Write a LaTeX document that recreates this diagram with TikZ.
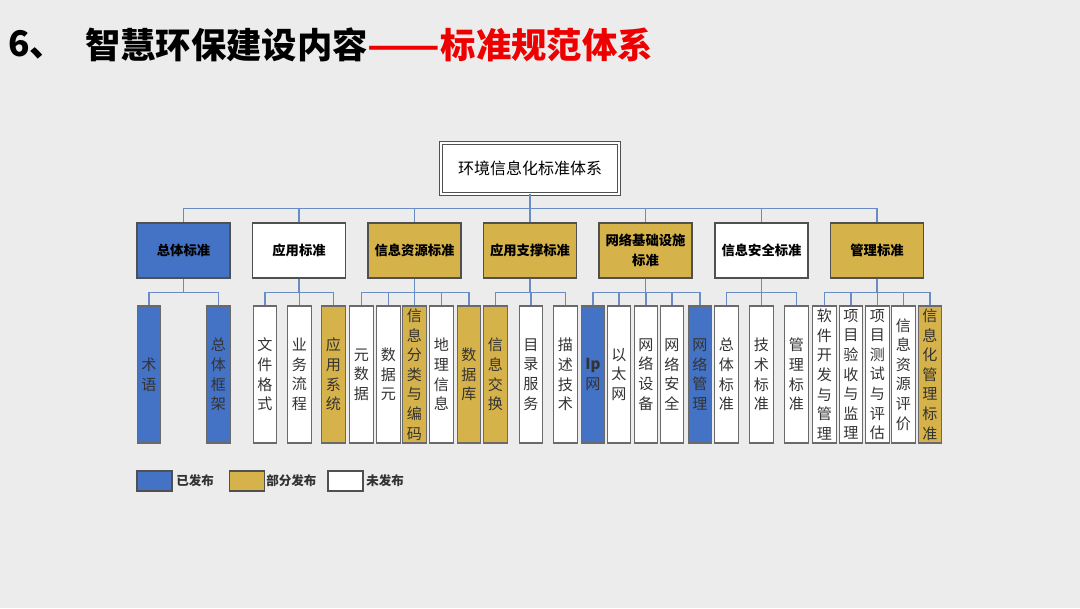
\documentclass[tikz,border=0pt]{standalone}
\usepackage{fontspec}
\setmainfont{Noto Sans CJK SC}
\usetikzlibrary{calc}
\definecolor{bg}{HTML}{ECECEC}
\definecolor{pubblue}{HTML}{4472C4}
\definecolor{partgold}{HTML}{D6B24A}
\definecolor{linkblue}{HTML}{6A8CC4}
\definecolor{edge}{HTML}{505050}
\definecolor{txt}{HTML}{333333}
\definecolor{titlered}{HTML}{EE0000}
\begin{document}
\begin{tikzpicture}[x=0.75pt,y=-0.75pt,
  lvl/.style={draw=edge,line width=0.9pt,minimum width=69.75pt,minimum height=41.25pt,inner sep=1pt,align=center,font=\fontsize{10}{15}\selectfont\bfseries,text=black},
  leaf/.style={draw=edge!85,line width=0.9pt,minimum width=17.6pt,minimum height=102.75pt,inner sep=0pt,align=center,text width=15pt,font=\fontsize{11.3}{14.7}\selectfont,text=txt},
  pub/.style={fill=pubblue},
  part/.style={fill=partgold},
  unpub/.style={fill=white},
  link/.style={draw=linkblue,line width=1.1pt},
  legbox/.style={draw=edge,line width=0.8pt,minimum width=26.25pt,minimum height=15pt,inner sep=0pt},
  legtxt/.style={anchor=west,inner sep=0pt,font=\fontsize{9.4}{11}\selectfont\bfseries,text=txt},
  ttl/.style={anchor=west,inner sep=0pt,font=\fontsize{26.5}{30}\selectfont\bfseries}
]
\useasboundingbox (0,0) rectangle (1080,608);
\fill[bg] (0,0) rectangle (1080,608);

% title
\node[ttl] (t0) at (8,45) {6、};
\node[ttl] (t1) at (85,45) {智慧环保建设内容\textcolor{titlered}{\scalebox{1.2}[1]{——}标准规范体系}};

% root
\node[draw=edge,line width=0.6pt,double=white,double distance=1.6pt,fill=white,minimum width=133.5pt,minimum height=38.25pt,font=\fontsize{12}{14}\selectfont,text=black] (r) at (530,168.5) {环境信息化标准体系};

% level 2
\node[lvl,pub]   (a1) at (183.5,250.5) {总体标准};
\node[lvl,unpub] (a2) at (299,250.5) {应用标准};
\node[lvl,part]  (a3) at (414.5,250.5) {信息资源标准};
\node[lvl,part]  (a4) at (530,250.5) {应用支撑标准};
\node[lvl,part]  (a5) at (645.5,250.5) {网络基础设施\\标准};
\node[lvl,unpub] (a6) at (761.5,250.5) {信息安全标准};
\node[lvl,part]  (a7) at (877,250.5) {管理标准};

% leaves
\node[leaf,pub]   (l1)  at (149,374.5) {术\\语};
\node[leaf,pub]   (l2)  at (218.5,374.5) {总\\体\\框\\架};
\node[leaf,unpub] (l3)  at (265,374.5) {文\\件\\格\\式};
\node[leaf,unpub] (l4)  at (299.5,374.5) {业\\务\\流\\程};
\node[leaf,part]  (l5)  at (333.5,374.5) {应\\用\\系\\统};
\node[leaf,unpub] (l6)  at (361.5,374.5) {元\\数\\据};
\node[leaf,unpub] (l7)  at (388.5,374.5) {数\\据\\元};
\node[leaf,part]  (l8)  at (414.5,374.5) {信\\息\\分\\类\\与\\编\\码};
\node[leaf,unpub] (l9)  at (441.5,374.5) {地\\理\\信\\息};
\node[leaf,part]  (l10) at (469,374.5) {数\\据\\库};
\node[leaf,part]  (l11) at (495.5,374.5) {信\\息\\交\\换};
\node[leaf,unpub] (l12) at (531,374.5) {目\\录\\服\\务};
\node[leaf,unpub] (l13) at (565.5,374.5) {描\\述\\技\\术};
\node[leaf,pub]   (l14) at (593,374.5) {\textbf{Ip}\\网};
\node[leaf,unpub] (l15) at (619,374.5) {以\\太\\网};
\node[leaf,unpub] (l16) at (646,374.5) {网\\络\\设\\备};
\node[leaf,unpub] (l17) at (672,374.5) {网\\络\\安\\全};
\node[leaf,pub]   (l18) at (700,374.5) {网\\络\\管\\理};
\node[leaf,unpub] (l19) at (726.5,374.5) {总\\体\\标\\准};
\node[leaf,unpub] (l20) at (761.5,374.5) {技\\术\\标\\准};
\node[leaf,unpub] (l21) at (796.5,374.5) {管\\理\\标\\准};
\node[leaf,unpub] (l22) at (824.5,374.5) {软\\件\\开\\发\\与\\管\\理};
\node[leaf,unpub] (l23) at (851,374.5) {项\\目\\验\\收\\与\\监\\理};
\node[leaf,unpub] (l24) at (877.5,374.5) {项\\目\\测\\试\\与\\评\\估};
\node[leaf,unpub] (l25) at (903.5,374.5) {信\\息\\资\\源\\评\\价};
\node[leaf,part]  (l26) at (930,374.5) {信\\息\\化\\管\\理\\标\\准};

% connectors
\foreach \a in {a1,a2,a3,a4,a5,a6,a7}
  \draw[link] (r.south) -- ++(0,14) -| (\a.north);
\foreach \p/\ls in {a1/{l1,l2},a2/{l3,l4,l5},a3/{l6,l7,l8,l9,l10},a4/{l11,l12,l13},a5/{l14,l15,l16,l17,l18},a6/{l19,l20,l21},a7/{l22,l23,l24,l25,l26}}
  \foreach \l in \ls
    \draw[link] (\p.south) -- ++(0,14) -| (\l.north);

% legend
\node[legbox,pub]   (k1) at (154.5,481) {};
\node[legtxt] (k1t) at (176,481) {已发布};
\node[legbox,part]  (k2) at (247,481) {};
\node[legtxt] (k2t) at (266,481) {部分发布};
\node[legbox,unpub] (k3) at (345.5,481) {};
\node[legtxt] (k3t) at (366,481) {未发布};
\end{tikzpicture}
\end{document}
